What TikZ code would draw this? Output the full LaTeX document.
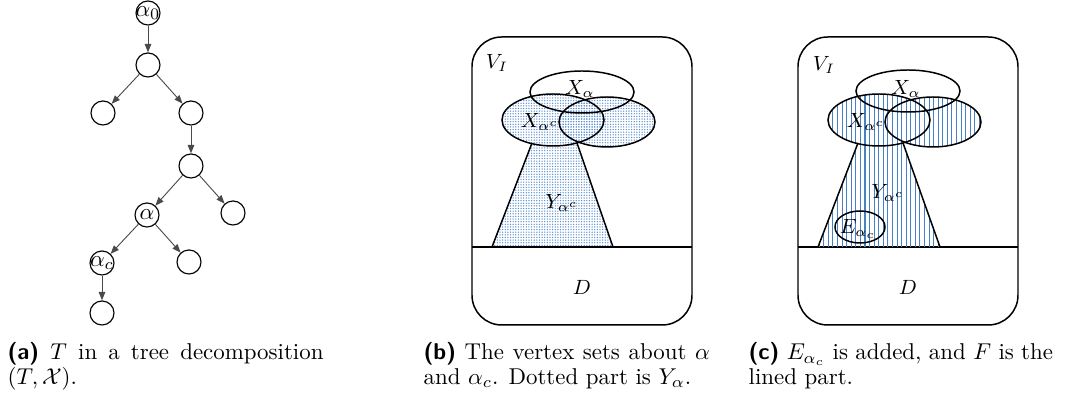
\documentclass[tikz,border=0pt]{standalone}
\usetikzlibrary{arrows.meta, patterns.meta}
\definecolor{cdot}{RGB}{95,145,210}
\definecolor{cline}{RGB}{70,130,195}
\definecolor{cedge}{HTML}{4A4A4A}
\tikzset{
  every picture/.style={line width=0.6pt},
  vtx/.style={circle, draw, minimum size=10.5pt, inner sep=0pt, line width=0.5pt},
  tedge/.style={-{Triangle[length=1.3mm, width=1mm]}, draw=cedge, line width=0.4pt},
  frame/.style={draw, rounded corners=13pt, line width=0.65pt},
  vset/.style={draw, line width=0.65pt},
  lbl/.style={font=\fontsize{9}{10}\selectfont, inner sep=1pt},
  subcap/.style={font=\fontsize{10}{10.6}\selectfont, align=justify, inner sep=0pt, anchor=base west},
  dotfill/.style={pattern={Dots[radius=0.32pt, distance=1.15pt]}, pattern color=cdot},
  linefill/.style={pattern={Lines[angle=90, distance=2pt, line width=0.45pt]}, pattern color=cline},
}

\begin{document}
\begin{tikzpicture}[x=0.437pt, y=-0.437pt]
  \useasboundingbox (0,0) rectangle (1075,398);
  % (a) the tree T
  \node[vtx] (t0) at (148,13) {\makebox[0pt]{$\alpha_0$}};
  \node[vtx] (t1) at (148,65) {};
  \node[vtx] (t2) at (103,113) {};
  \node[vtx] (t3) at (191,113) {};
  \node[vtx] (t4) at (191,166) {};
  \node[vtx] (ta) at (147,215) {\makebox[0pt]{$\alpha$}};
  \node[vtx] (t5) at (233,213) {};
  \node[vtx] (tc) at (102,263) {\makebox[0pt]{$\alpha_c$}};
  \node[vtx] (t6) at (189,262) {};
  \node[vtx] (t7) at (102,313) {};
  \foreach \u/\v in {t0/t1, t1/t2, t1/t3, t3/t4, t4/ta, t4/t5, ta/tc, ta/t6, tc/t7}
    \draw[tedge] (\u) -- (\v);

  % (b) dotted part
  \draw[frame] (472,37) rectangle (692,325);
  \draw[line width=0.5pt] (472,247) -- (692,247);
  \path[dotfill] (553,120) ellipse [x radius=51, y radius=26];
  \path[dotfill] (607,122) ellipse [x radius=48, y radius=25];
  \path[dotfill] (532,143) -- (577,143) -- (613,247) -- (492,247) -- cycle;
  \draw[vset] (582,92) ellipse [x radius=52, y radius=21];
  \draw[vset] (553,120) ellipse [x radius=51, y radius=26];
  \draw[vset] (607,122) ellipse [x radius=48, y radius=25];
  \draw[vset] (532,143) -- (492,247) (577,143) -- (613,247);
  \node[lbl] (vib) at (497,63) {$V_I$};
  \node[lbl] (xab) at (580,89) {$X_\alpha$};
  \node[lbl] (xcb) at (540,122) {$X_{\alpha^c}$};
  \node[lbl] (ycb) at (562,203) {$Y_{\alpha^c}$};
  \node[lbl] (db) at (582,287) {$D$};

  % (c) lined part
  \draw[frame] (798,37) rectangle (1018,325);
  \draw[line width=0.5pt] (798,247) -- (1018,247);
  \path[linefill] (879,120) ellipse [x radius=51, y radius=26];
  \path[linefill] (933,122) ellipse [x radius=48, y radius=25];
  \path[linefill] (858,143) -- (903,143) -- (940,247) -- (818,247) -- cycle;
  \draw[vset] (908,91) ellipse [x radius=52, y radius=21];
  \draw[vset] (879,120) ellipse [x radius=51, y radius=26];
  \draw[vset] (933,122) ellipse [x radius=48, y radius=25];
  \draw[vset] (858,143) -- (818,247) (903,143) -- (940,247);
  \draw[vset] (860,227) ellipse [x radius=25, y radius=16];
  \node[lbl] (vic) at (824,65) {$V_I$};
  \node[lbl] (xac) at (906,89) {$X_\alpha$};
  \node[lbl] (xcc) at (866,122) {$X_{\alpha^c}$};
  \node[lbl] (ycc) at (888,193) {$Y_{\alpha^c}$};
  \node[lbl] (ec) at (858,229) {$E_{\alpha_c}$};
  \node[lbl] (dc) at (908,287) {$D$};

  % captions
  \node[subcap, text width=138pt] (capa) at (7,360) {\textsf{\bfseries (a)} $T$ in a tree decomposition $(T,\mathcal{X})$.};
  \node[subcap, text width=125pt] (capb) at (423,360) {\textsf{\bfseries (b)} The vertex sets about $\alpha$ and $\alpha_c$. Dotted part is $Y_\alpha$.};
  \node[subcap, text width=133pt] (capc) at (748,360) {\textsf{\bfseries (c)} $E_{\alpha_c}$ is added, and $F$ is the lined part.};
\end{tikzpicture}
\end{document}
